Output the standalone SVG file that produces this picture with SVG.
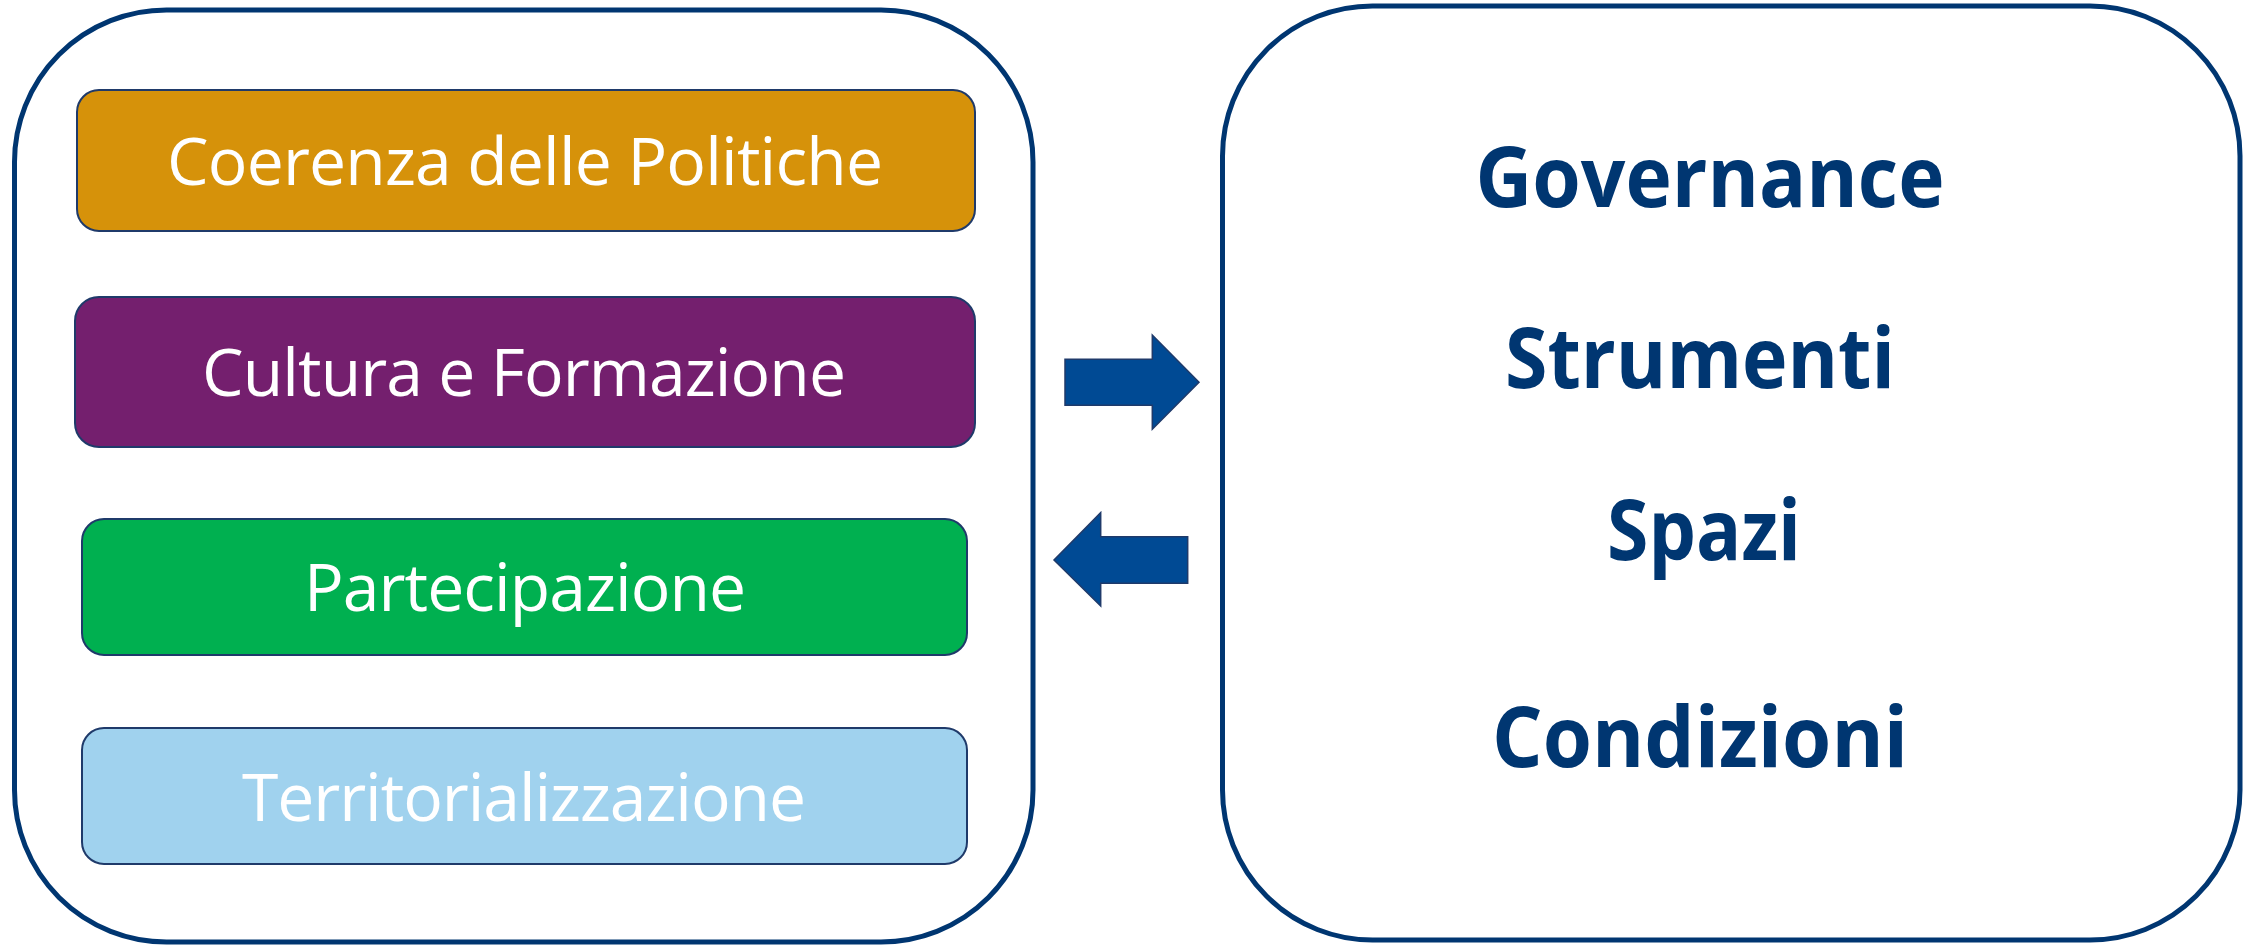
<svg xmlns="http://www.w3.org/2000/svg" width="2249" height="945" viewBox="0 0 2249 945">
  <style>
    .outer { fill: #ffffff; stroke: #003671; stroke-width: 5; }
    .box { stroke: #1F3A6A; stroke-width: 2; }
    .lbl { font-family: "Open Sans", "Noto Sans", sans-serif; font-size: 66px; fill: #ffffff; text-anchor: middle; }
    .big { font-family: "Open Sans", "Noto Sans", sans-serif; font-weight: bold; font-size: 84px; fill: #003671; text-anchor: middle; }
    .arrow { fill: #004A94; stroke: #1F3A6A; stroke-width: 1.5; }
  </style>
  <rect width="2249" height="945" fill="#ffffff"/>
  <g id="left-panel">
    <rect class="outer" x="14.5" y="10" width="1018.5" height="932" rx="152" ry="152"/>
  </g>
  <g id="right-panel">
    <rect class="outer" x="1222.5" y="6" width="1017.5" height="934" rx="150" ry="150"/>
  </g>
  <g id="coerenza">
    <rect class="box" x="77" y="90" width="898" height="141" rx="22" fill="#D6920A"/>
    <text class="lbl" x="525" y="185" textLength="716">Coerenza delle Politiche</text>
  </g>
  <g id="cultura">
    <rect class="box" x="75" y="297" width="900" height="150" rx="24" fill="#741F6E"/>
    <text class="lbl" x="524" y="396" textLength="644">Cultura e Formazione</text>
  </g>
  <g id="partecipazione">
    <rect class="box" x="82" y="519" width="885" height="136" rx="22" fill="#00B050"/>
    <text class="lbl" x="525" y="611" textLength="442">Partecipazione</text>
  </g>
  <g id="territorializzazione">
    <rect class="box" x="82" y="728" width="885" height="136" rx="22" fill="#A0D2EE"/>
    <text class="lbl" x="524" y="821" textLength="564">Territorializzazione</text>
  </g>
  <g id="governance"><text class="big" x="1710" y="207" textLength="469" lengthAdjust="spacingAndGlyphs">Governance</text></g>
  <g id="strumenti"><text class="big" x="1700" y="388" textLength="390" lengthAdjust="spacingAndGlyphs">Strumenti</text></g>
  <g id="spazi"><text class="big" x="1704" y="560" textLength="194" lengthAdjust="spacingAndGlyphs">Spazi</text></g>
  <g id="condizioni"><text class="big" x="1700" y="767" textLength="416" lengthAdjust="spacingAndGlyphs">Condizioni</text></g>
  <g id="connectors">
    <polygon class="arrow" points="1065,359.3 1152.3,359.3 1152.3,335 1199,382.3 1152.3,429.3 1152.3,405.3 1065,405.3"/>
    <polygon class="arrow" points="1187.7,536.7 1100.7,536.7 1100.7,512.7 1054,560 1100.7,606 1100.7,583.3 1187.7,583.3"/>
  </g>
</svg>
